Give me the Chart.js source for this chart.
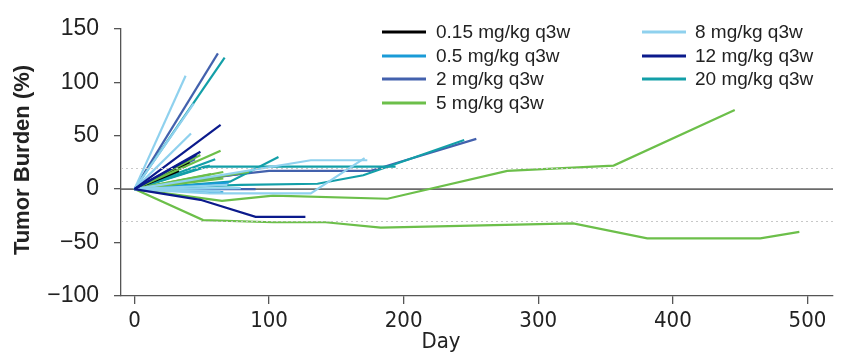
<!DOCTYPE html>
<html>
<head>
<meta charset="utf-8">
<script src="https://cdn.jsdelivr.net/npm/chart.js@4.4.1/dist/chart.umd.min.js"></script>
<style>
  html, body { margin: 0; padding: 0; background: #fff; }
  #wrap { width: 846px; height: 353px; }
</style>
</head>
<body>
<div id="wrap"><canvas id="tumorChart" width="846" height="353"></canvas></div>
<script>
// dose groups
const doseLabels = ['0.15 mg/kg q3w', '0.5 mg/kg q3w', '2 mg/kg q3w', '5 mg/kg q3w',
                    '8 mg/kg q3w', '12 mg/kg q3w', '20 mg/kg q3w'];
const doseColors = ['#000000', '#1a9bd7', '#4361ad', '#6cbf4a', '#8fd1ee', '#0b1a8c', '#139fa8'];

// per patient [day, tumor burden %]
const pts015 = [
  [[0, 0], [41, 25]],
  [[0, 0], [39, 22]],
  [[0, 0], [33, 17]]
];
const pts05 = [
  [[0, 0], [70, 6]],
  [[0, 0], [58, 11]],
  [[0, 0], [66, -3]]
];
const pts2 = [
  [[0, 0], [62, 127]],
  [[0, 0], [50, 10], [100, 17], [175, 17], [254, 47]],
  [[0, 0], [90, 0]],
  [[0, 0], [77, 14]],
  [[0, 0], [45, 28]]
];
const pts5 = [
  [[0, 0], [65, -11], [103, -6], [188, -9], [277, 17], [356, 22], [446, 74]],
  [[0, 0], [51, -29], [103, -31], [142, -31], [183, -36], [326, -32], [381, -46], [465, -46], [494, -40]],
  [[0, 0], [64, 36]],
  [[0, 0], [49, 32]],
  [[0, 0], [66, 16]],
  [[0, 0], [57, 14]],
  [[0, 0], [85, 16]],
  [[0, 0], [66, 10]]
];
const pts8 = [
  [[0, 0], [38, 106]],
  [[0, 0], [44, 80]],
  [[0, 0], [42, 52]],
  [[0, 0], [69, 14], [131, 27], [173, 27]],
  [[0, 0], [56, -4], [131, -4], [171, 29]],
  [[0, 0], [64, -2]],
  [[0, 0], [69, 4]],
  [[0, 0], [79, 1]]
];
const pts12 = [
  [[0, 0], [64, 60]],
  [[0, 0], [49, 35]],
  [[0, 0], [46, 32]],
  [[0, 0], [49, -10], [90, -26], [127, -26]]
];
const pts20 = [
  [[0, 0], [67, 123]],
  [[0, 0], [56, 22]],
  [[0, 0], [60, 28]],
  [[0, 0], [71, 7], [107, 30]],
  [[0, 0], [52, 21], [194, 21]],
  [[0, 0], [79, 4], [136, 5], [170, 13], [245, 46]]
];

const xTicks = [0, 100, 200, 300, 400, 500];
const yTicks = [-100, -50, 0, 50, 100, 150];
const zeroLine = 0;
const refLines = [20, -30];

// drawing order, bottom first (index into doseLabels)
const groups = [pts015, pts05, pts2, pts5, pts8, pts12, pts20];
const layerOrder = [2, 6, 0, 1, 3, 4, 5];

const datasets = [];
layerOrder.forEach(g => {
  groups[g].forEach(p => {
    datasets.push({
      label: doseLabels[g],
      data: p.map(d => ({ x: d[0], y: d[1] })),
      borderColor: doseColors[g],
      borderWidth: 2.2,
      pointRadius: 0,
      fill: false,
      tension: 0
    });
  });
});
datasets.forEach((d, i) => { d.order = datasets.length - i; });

const axisColor = '#555555';
const textColor = '#222222';

const refLinePlugin = {
  id: 'refLines',
  beforeDatasetsDraw(chart) {
    const { ctx, chartArea } = chart;
    const y0 = chart.scales.y.getPixelForValue(zeroLine);
    ctx.save();
    ctx.strokeStyle = '#6b6b6b';
    ctx.lineWidth = 1.6;
    ctx.beginPath();
    ctx.moveTo(chartArea.left, y0);
    ctx.lineTo(chartArea.right, y0);
    ctx.stroke();
    ctx.restore();
  },
  afterDatasetsDraw(chart) {
    const { ctx, chartArea } = chart;
    ctx.save();
    ctx.strokeStyle = '#c8c8c8';
    ctx.lineWidth = 1;
    ctx.setLineDash([2, 3]);
    refLines.forEach(v => {
      const y = Math.round(chart.scales.y.getPixelForValue(v)) + 0.5;
      ctx.beginPath();
      ctx.moveTo(chartArea.left, y);
      ctx.lineTo(chartArea.right, y);
      ctx.stroke();
    });
    ctx.restore();
  }
};

const legendPlugin = {
  id: 'doseLegend',
  afterDraw(chart) {
    const ctx = chart.ctx;
    const cols = [{ line: 382, text: 436 }, { line: 642, text: 695 }];
    const rowY = [32, 56, 79, 103];
    ctx.save();
    ctx.font = '19px "Liberation Sans", Arial, sans-serif';
    ctx.textBaseline = 'middle';
    ctx.textAlign = 'left';
    doseLabels.forEach((lab, i) => {
      const c = cols[i < 4 ? 0 : 1];
      const y = rowY[i < 4 ? i : i - 4];
      ctx.strokeStyle = doseColors[i];
      ctx.lineWidth = 3;
      ctx.beginPath();
      ctx.moveTo(c.line, y);
      ctx.lineTo(c.line + 44, y);
      ctx.stroke();
      ctx.fillStyle = textColor;
      ctx.fillText(lab, c.text, y + 1);
    });
    ctx.restore();
  }
};

const titlePlugin = {
  id: 'axisTitles',
  afterDraw(chart) {
    const ctx = chart.ctx;
    ctx.save();
    ctx.fillStyle = textColor;
    ctx.textAlign = 'center';
    ctx.textBaseline = 'middle';
    ctx.font = '22px "Liberation Sans Narrow", "DejaVu Sans Condensed", sans-serif';
    ctx.fillText('Day', 441, 342);
    ctx.translate(23, 160);
    ctx.rotate(-Math.PI / 2);
    ctx.font = 'bold 22px "Liberation Sans", Arial, sans-serif';
    ctx.fillText('Tumor Burden (%)', 0, 0);
    ctx.restore();
  }
};

new Chart(document.getElementById('tumorChart'), {
  type: 'line',
  data: { datasets: datasets },
  options: {
    responsive: false,
    animation: false,
    events: [],
    layout: { padding: { top: 24, right: 13, left: 0, bottom: 0 } },
    plugins: { legend: { display: false }, tooltip: { enabled: false } },
    scales: {
      x: {
        type: 'linear',
        min: -10,
        max: 519,
        afterBuildTicks: axis => { axis.ticks = xTicks.map(v => ({ value: v })); },
        afterFit: s => { s.height = 57; },
        border: { display: true, color: axisColor, width: 1.3 },
        grid: { drawOnChartArea: false, drawTicks: true, tickLength: 8, color: axisColor, lineWidth: 1.3 },
        ticks: {
          color: textColor,
          padding: 4,
          maxRotation: 0,
          font: { family: '"Liberation Sans Narrow", "DejaVu Sans Condensed", sans-serif', size: 22 }
        }
      },
      y: {
        min: -100,
        max: 150,
        afterBuildTicks: axis => { axis.ticks = yTicks.map(v => ({ value: v })); },
        afterFit: s => { s.width = 121; },
        border: { display: true, color: axisColor, width: 1.3 },
        grid: { drawOnChartArea: false, drawTicks: true, tickLength: 7, color: axisColor, lineWidth: 1.3 },
        ticks: {
          color: textColor,
          padding: 15,
          font: { family: '"Liberation Sans", Arial, sans-serif', size: 23 },
          callback: v => (v < 0 ? '\u2212' + Math.abs(v) : String(v))
        }
      }
    }
  },
  plugins: [refLinePlugin, legendPlugin, titlePlugin]
});
</script>
</body>
</html>
